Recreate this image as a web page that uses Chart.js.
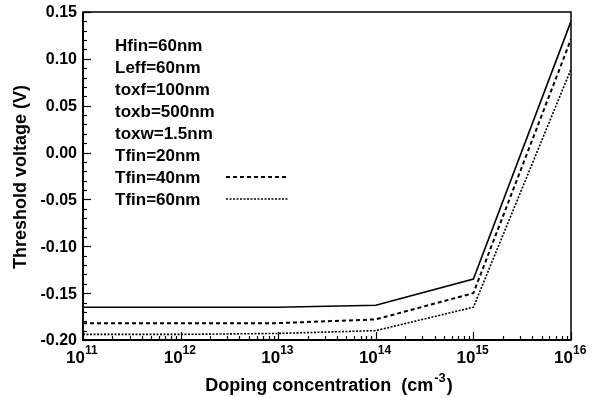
<!DOCTYPE html>
<html>
<head>
<meta charset="utf-8">
<script src="https://cdn.jsdelivr.net/npm/chart.js@4.4.0/dist/chart.umd.min.js"></script>
<style>
  body { margin: 0; background: #fff; }
  canvas { display: block; }
</style>
</head>
<body>
<canvas id="myChart" width="592" height="398"></canvas>
<script>
// doping concentration (cm-3)
var doping = [1e11, 1e12, 1e13, 1e14, 1e15, 1e16];
// threshold voltage (V) per fin width
var vthTfin20 = [-0.165, -0.165, -0.165, -0.163, -0.135, 0.140];
var vthTfin40 = [-0.182, -0.182, -0.182, -0.178, -0.150, 0.121];
var vthTfin60 = [-0.194, -0.194, -0.193, -0.190, -0.165, 0.089];

var yTicks = [0.15, 0.10, 0.05, 0.00, -0.05, -0.10, -0.15, -0.20];
var xTickExp = [11, 12, 13, 14, 15, 16];
var notes = ['Hfin=60nm', 'Leff=60nm', 'toxf=100nm', 'toxb=500nm', 'toxw=1.5nm', 'Tfin=20nm', 'Tfin=40nm', 'Tfin=60nm'];

var FONT = '"Liberation Sans", Arial, sans-serif';

function pts(vals){
    return doping.map(function(x, i){ return {x: x, y: vals[i]}; });
}

var data = {
    datasets: [
        { label: 'Tfin=20nm', data: pts(vthTfin20), borderColor: '#000', borderWidth: 1.6, borderDash: [], legendRow: -1 },
        { label: 'Tfin=40nm', data: pts(vthTfin40), borderColor: '#000', borderWidth: 2, borderDash: [4, 3], legendRow: 6 },
        { label: 'Tfin=60nm', data: pts(vthTfin60), borderColor: '#000', borderWidth: 1.6, borderDash: [2, 1.5], legendRow: 7 }
    ]
};

// frame, inward ticks, labels, notes
const decor = {
    id: 'decor',
    afterDraw(chart){
        const {ctx, chartArea: {top, bottom, left, right}, scales: {x, y}} = chart;
        ctx.save();
        ctx.strokeStyle = '#000';
        ctx.fillStyle = '#000';

        // box
        ctx.lineWidth = 1.5;
        ctx.strokeRect(left, top, right - left, bottom - top);
        ctx.lineWidth = 2;
        ctx.beginPath();
        ctx.moveTo(left, top); ctx.lineTo(left, bottom); ctx.lineTo(right, bottom);
        ctx.stroke();

        // y ticks
        ctx.lineWidth = 1.2;
        for (var v = -20; v <= 15; v++){
            var py = Math.round(y.getPixelForValue(v / 100)) + 0.5;
            var len = (v % 5 == 0) ? 8 : 4;
            ctx.beginPath(); ctx.moveTo(left, py); ctx.lineTo(left + len, py); ctx.stroke();
        }
        // x ticks (log)
        for (var e = 11; e <= 16; e++){
            for (var m = 1; m <= 9; m++){
                if (e == 16 && m > 1) break;
                var px = Math.round(x.getPixelForValue(m * Math.pow(10, e))) + 0.5;
                var l = (m == 1) ? 8 : 4;
                ctx.beginPath(); ctx.moveTo(px, bottom); ctx.lineTo(px, bottom - l); ctx.stroke();
            }
        }

        // y tick labels
        ctx.font = 'bold 16px ' + FONT;
        ctx.textAlign = 'right';
        ctx.textBaseline = 'middle';
        yTicks.forEach(function(t){
            ctx.fillText(t.toFixed(2), left - 6, y.getPixelForValue(t) + 1);
        });

        // x tick labels: 10 with exponent
        xTickExp.forEach(function(ex){
            var px = x.getPixelForValue(Math.pow(10, ex));
            ctx.font = 'bold 17px ' + FONT;
            ctx.textAlign = 'right';
            ctx.textBaseline = 'alphabetic';
            ctx.fillText('10', px + 2, bottom + 23);
            ctx.font = 'bold 12px ' + FONT;
            ctx.textAlign = 'left';
            ctx.fillText(String(ex), px + 2, bottom + 14);
        });

        // axis titles
        ctx.font = 'bold 18px ' + FONT;
        ctx.textAlign = 'left';
        ctx.textBaseline = 'alphabetic';
        var t1 = 'Doping concentration  (cm', sup = '-3', t2 = ')';
        var w1 = ctx.measureText(t1).width, w3 = ctx.measureText(t2).width;
        ctx.font = 'bold 13px ' + FONT;
        var w2 = ctx.measureText(sup).width;
        var tx = (left + right) / 2 - (w1 + w2 + w3) / 2 + 1;
        ctx.font = 'bold 18px ' + FONT;
        ctx.fillText(t1, tx, 391);
        ctx.font = 'bold 13px ' + FONT;
        ctx.fillText(sup, tx + w1 + 1, 382);
        ctx.font = 'bold 18px ' + FONT;
        ctx.fillText(t2, tx + w1 + w2 + 2, 391);

        ctx.save();
        ctx.translate(21, (top + bottom) / 2 + 1);
        ctx.rotate(-Math.PI / 2);
        ctx.textAlign = 'center';
        ctx.textBaseline = 'middle';
        ctx.fillText('Threshold voltage (V)', 0, 0);
        ctx.restore();

        // notes + legend samples
        ctx.font = 'bold 17px ' + FONT;
        ctx.textAlign = 'left';
        ctx.textBaseline = 'middle';
        notes.forEach(function(s, i){
            ctx.fillText(s, 115, 46 + i * 22);
        });
        chart.data.datasets.forEach(function(ds){
            if (ds.legendRow < 0) return;
            var ly = 46 + ds.legendRow * 22 - 1;
            ctx.lineWidth = ds.borderWidth;
            ctx.setLineDash(ds.borderDash);
            ctx.beginPath(); ctx.moveTo(226, ly); ctx.lineTo(288, ly); ctx.stroke();
        });
        ctx.restore();
    }
};

const config = {
    type: 'line',
    data,
    plugins: [decor],
    options: {
        responsive: false,
        animation: false,
        layout: { padding: { left: 83, right: 21, top: 12, bottom: 58 } },
        elements: { point: { radius: 0 }, line: { tension: 0 } },
        plugins: { legend: { display: false }, tooltip: { enabled: false } },
        scales: {
            x: { type: 'logarithmic', min: 1e11, max: 1e16, display: false },
            y: { type: 'linear', min: -0.2, max: 0.15, display: false }
        }
    }
};

var myChart = new Chart(document.getElementById('myChart'), config);
</script>
</body>
</html>
